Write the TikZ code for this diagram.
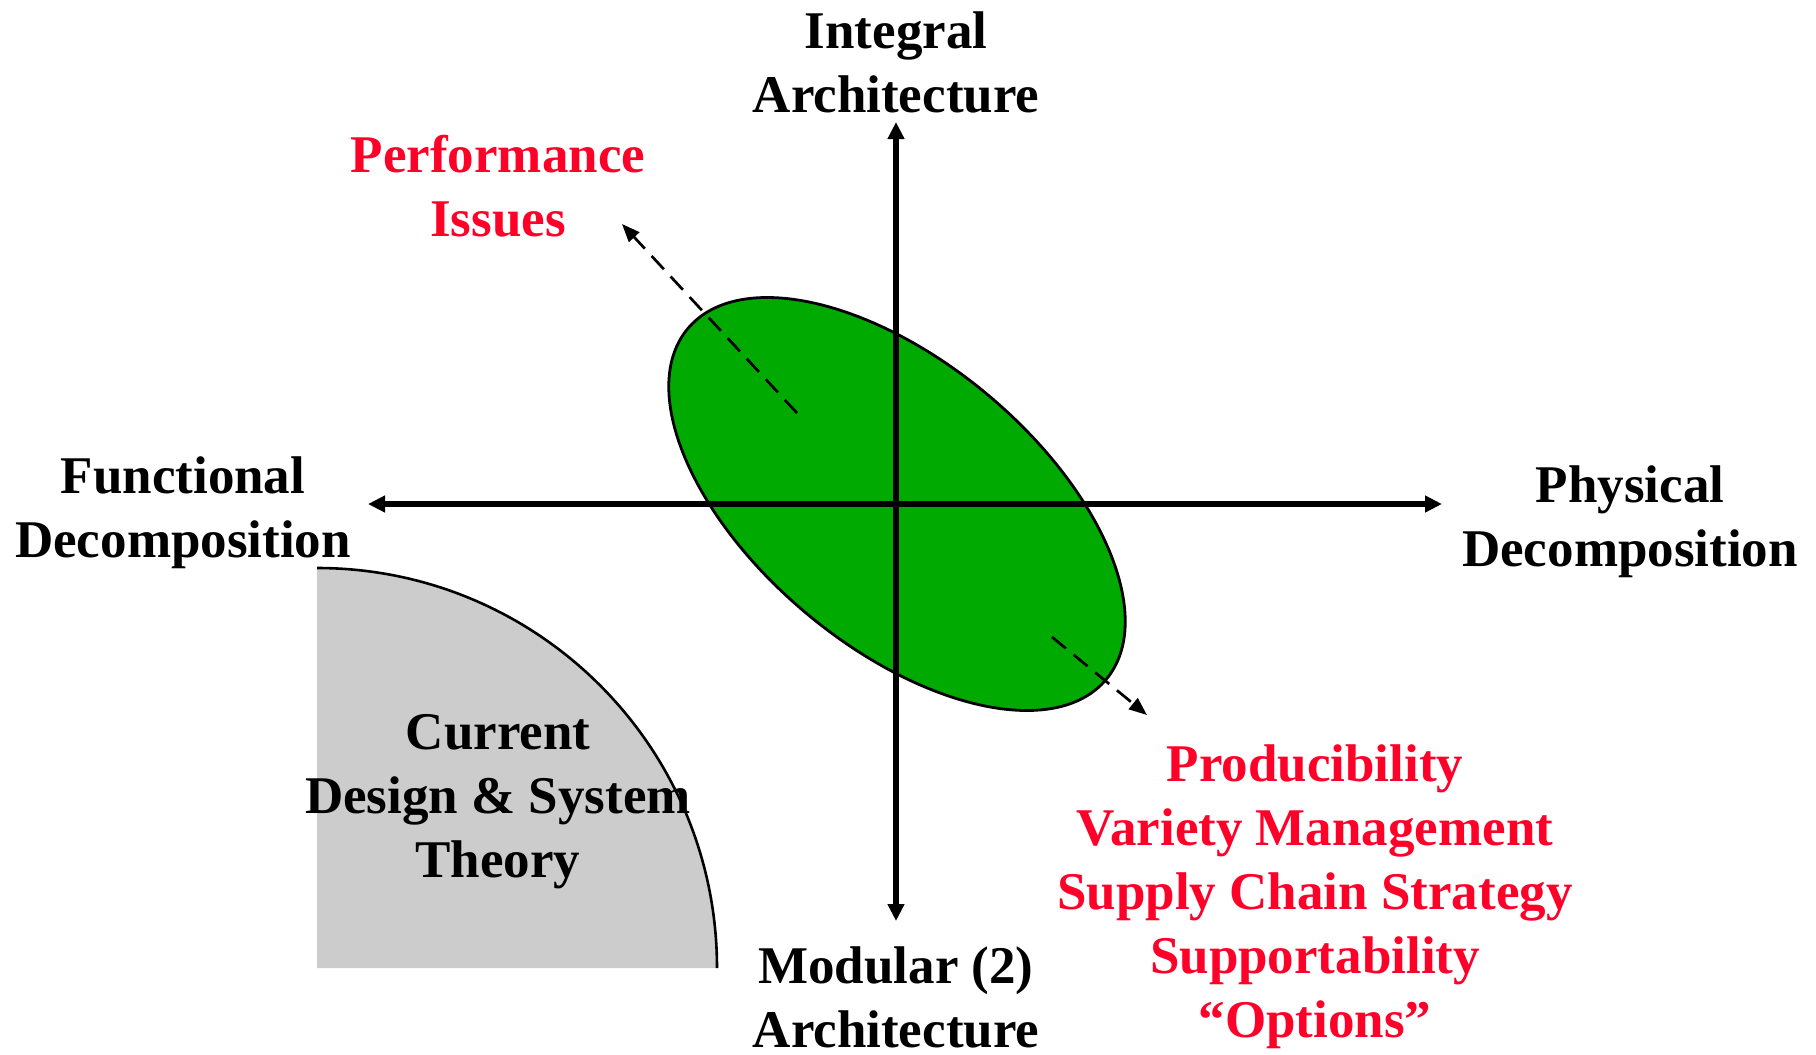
\documentclass[tikz,border=0pt]{standalone}
\usepackage{fontspec}
\setmainfont{Liberation Serif}
\usetikzlibrary{arrows.meta,shapes.geometric}
\definecolor{lblred}{RGB}{255,0,40}
\definecolor{ellgreen}{RGB}{0,170,0}
\definecolor{qgray}{RGB}{204,204,204}
\begin{document}
\begin{tikzpicture}[x=0.5pt,y=-0.5pt,
  lbl/.style={font=\bfseries\fontsize{26.5}{32}\selectfont, align=center, anchor=base, inner sep=0pt},
  redlbl/.style={lbl, text=lblred},
  axisline/.style={line width=2.8pt, {Triangle[length=8.5pt,width=8pt]}-{Triangle[length=8.5pt,width=8pt]}},
  dasharrow/.style={line width=1.35pt, dash pattern=on 9pt off 5pt, -{Triangle[length=9pt,width=7pt]}},
  ]
\useasboundingbox (0,0) rectangle (1816,1055);
% quarter disc
\fill[qgray] (317,968) -- (317,568) arc[start angle=90,end angle=0,radius=200pt] -- cycle;
\draw[line width=1.3pt] (317,568) arc[start angle=90,end angle=0,radius=200pt];
% ellipse
\node[ellipse, draw, line width=1.4pt, fill=ellgreen, inner sep=0pt,
      minimum width=273pt, minimum height=142pt, rotate=-40] (ell) at (897,504) {};
% axes
\coordinate (axT) at (896,122);
\coordinate (axB) at (896,921);
\coordinate (axL) at (368,504);
\coordinate (axR) at (1442,504);
\draw[axisline] (axL) -- (axR);
\draw[axisline] (axT) -- (axB);
% dashed arrows
\coordinate (pi0) at (797,413);
\coordinate (pi1) at (622,224);
\coordinate (pr0) at (1052,637);
\coordinate (pr1) at (1147,715);
\draw[dasharrow] (pi0) -- (pi1);
\draw[dasharrow] (pr0) -- (pr1);
% labels (base anchor = baseline of last line)
\node[lbl] (integral) at (896,112) {Integral\\Architecture};
\node[lbl] (modular) at (896,1047) {Modular (2)\\Architecture};
\node[lbl] (functional) at (183,557) {Functional\\Decomposition};
\node[lbl] (physical) at (1630,566) {Physical\\Decomposition};
\node[lbl] (current) at (498,877) {Current\\Design \& System\\Theory};
\node[redlbl] (perf) at (498,236) {Performance\\Issues};
\node[redlbl] (prod) at (1315,1037) {Producibility\\Variety Management\\Supply Chain Strategy\\Supportability\\“Options”};
\end{tikzpicture}
\end{document}
